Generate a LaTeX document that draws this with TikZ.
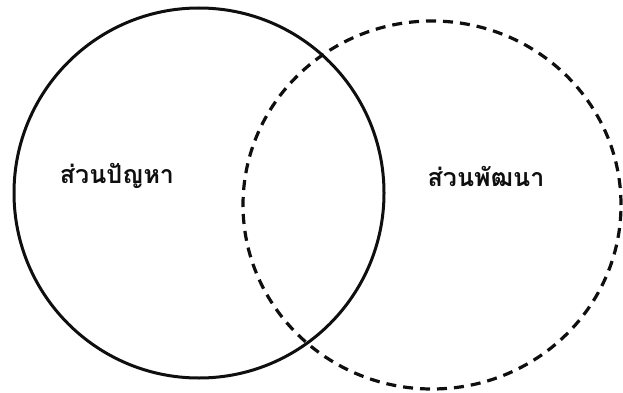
\documentclass[tikz,border=0pt]{standalone}
\usepackage{fontspec}
\newfontfamily\thaifont[Script=Thai]{Loma}
\usepackage{tikz}
\usetikzlibrary{positioning,shapes.geometric}
\definecolor{vennink}{RGB}{15,15,15}
\tikzset{
  setsolid/.style={circle,draw=vennink,line width=3pt,inner sep=0pt,
                   minimum size=#1},
  setdash/.style={ellipse,draw=vennink,line width=3.2pt,inner sep=0pt,
                  dash pattern=on 10pt off 7pt},
  setlabel/.style={font=\thaifont\bfseries\fontsize{25}{29}\selectfont,
                   text=vennink,inner sep=0pt},
}
\begin{document}
\begin{tikzpicture}[x=1pt,y=1pt]
  \useasboundingbox (0,0) rectangle (623,392);
  % the two sets
  \node[setsolid=370pt] (problem) at (199,199) {};
  \node[setdash,minimum width=378pt,minimum height=368pt] (develop) at (432,187) {};
  % labels
  \node[setlabel] (problemlab) at (117,216) {ส่วนปัญหา};
  \node[setlabel] (developlab) at (486,216) {ส่วนพัฒนา};
\end{tikzpicture}
\end{document}
